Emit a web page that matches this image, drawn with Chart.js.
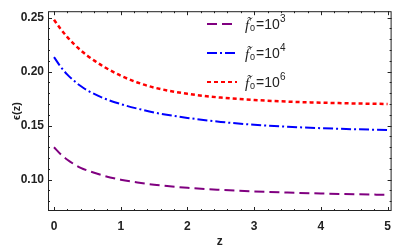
<!DOCTYPE html>
<html>
<head>
<meta charset="utf-8">
<script src="https://cdn.jsdelivr.net/npm/chart.js@4.4.0/dist/chart.umd.min.js"></script>
<style>
  html, body { margin: 0; padding: 0; background: #fff; }
  #wrap { width: 399px; height: 249px; }
</style>
</head>
<body>
<div id="wrap"><canvas id="grafik"></canvas></div>
<script>
// ====== DATA ======
const zValues = [0, 0.1, 0.2, 0.3, 0.4, 0.5, 0.75, 1, 1.25, 1.5, 2, 2.5, 3, 3.5, 4, 4.5, 5];
const eps1e3 = [0.130, 0.1235, 0.1185, 0.1144, 0.1110, 0.1085, 0.1036, 0.1000, 0.0974, 0.0954, 0.0925, 0.0906, 0.0891, 0.0881, 0.0872, 0.0865, 0.0860];
const eps1e4 = [0.2135, 0.2045, 0.1973, 0.1915, 0.1867, 0.1827, 0.1753, 0.1700, 0.1658, 0.1622, 0.1572, 0.1535, 0.1508, 0.1490, 0.1477, 0.1467, 0.1460];
const eps1e6 = [0.2480, 0.2395, 0.2320, 0.2255, 0.2198, 0.2148, 0.2045, 0.1963, 0.1900, 0.1853, 0.1795, 0.1760, 0.1738, 0.1723, 0.1713, 0.1706, 0.1701];
const legendExp = ["3", "4", "6"];
const xTicks = [0, 1, 2, 3, 4, 5];
const yTicks = [0.10, 0.15, 0.20, 0.25];

const warna = ["#800080", "#0000ff", "#ff0000"];
const garis = [[10, 5], [10, 3, 2, 3], [4, 3]];

function toPoints(arr) {
  return arr.map((v, i) => ({ x: zValues[i], y: v }));
}

// frame + ticks di dalam (gaya Mathematica)
const framePlugin = {
  id: "frame",
  afterDatasetsDraw(chart) {
    const { ctx, chartArea: a, scales } = chart;
    ctx.save();
    ctx.strokeStyle = "#222";
    ctx.lineWidth = 1;
    ctx.strokeRect(a.left + 0.5, a.top + 0.5, a.right - a.left - 1, a.bottom - a.top - 1);

    ctx.beginPath();
    // ticks x
    for (let i = 0; i <= 25; i++) {
      const v = i * 0.2;
      const px = Math.round(scales.x.getPixelForValue(v)) + 0.5;
      const len = i % 5 === 0 ? 4 : 2;
      ctx.moveTo(px, a.bottom); ctx.lineTo(px, a.bottom - len);
      ctx.moveTo(px, a.top); ctx.lineTo(px, a.top + len);
    }
    // ticks y
    for (let i = 8; i <= 25; i++) {
      const v = i * 0.01;
      const py = Math.round(scales.y.getPixelForValue(v)) + 0.5;
      const len = i % 5 === 0 ? 4 : 2;
      ctx.moveTo(a.left, py); ctx.lineTo(a.left + len, py);
      ctx.moveTo(a.right, py); ctx.lineTo(a.right - len, py);
    }
    ctx.stroke();
    ctx.restore();
  },
};

// legenda di dalam area grafik
const legendPlugin = {
  id: "legendaDalam",
  afterDraw(chart) {
    const { ctx } = chart;
    const rows = [24, 53, 82];
    ctx.save();
    rows.forEach((y, i) => {
      ctx.strokeStyle = warna[i];
      ctx.lineWidth = 2;
      ctx.setLineDash(garis[i]);
      ctx.beginPath();
      ctx.moveTo(207, y); ctx.lineTo(237, y);
      ctx.stroke();
      ctx.setLineDash([]);

      ctx.fillStyle = "#222";
      ctx.textBaseline = "alphabetic";
      ctx.textAlign = "left";
      ctx.font = "italic 15px 'Liberation Serif', serif";
      ctx.fillText("f\u0303", 245, y + 6);
      ctx.font = "9px 'Liberation Sans', Arial, sans-serif";
      ctx.fillText("0", 250, y + 7);
      ctx.font = "14px 'Liberation Sans', Arial, sans-serif";
      ctx.fillText("=10", 256, y + 5);
      ctx.font = "10px 'Liberation Sans', Arial, sans-serif";
      ctx.fillText(legendExp[i], 280, y - 2);
    });
    ctx.restore();
  },
};

const ctx = document.getElementById("grafik").getContext("2d");
new Chart(ctx, {
  type: "line",
  data: {
    datasets: [eps1e3, eps1e4, eps1e6].map((d, i) => ({
      data: toPoints(d),
      borderColor: warna[i],
      borderDash: garis[i],
      borderWidth: i === 2 ? 2.5 : 2,
      pointRadius: 0,
      fill: false,
      cubicInterpolationMode: "monotone",
    })),
  },
  options: {
    responsive: true,
    maintainAspectRatio: false,
    animation: false,
    layout: { padding: { left: 0, right: 5, top: 2, bottom: 0 } },
    plugins: { legend: { display: false }, tooltip: { enabled: false } },
    scales: {
      x: {
        type: "linear",
        min: -0.09,
        max: 5.06,
        afterBuildTicks: (s) => { s.ticks = xTicks.map((v) => ({ value: v })); },
        afterFit: (s) => { s.height = 38; },
        grid: { display: false, drawTicks: false },
        border: { display: false },
        ticks: {
          padding: 8,
          color: "#222",
          font: { family: "'Liberation Sans', Arial, sans-serif", size: 12, weight: "bold" },
          callback: (v) => String(v),
        },
        title: {
          display: true,
          text: "z",
          color: "#222",
          padding: { top: 0, bottom: 0 },
          font: { family: "'Liberation Sans', Arial, sans-serif", size: 12, weight: "bold" },
        },
      },
      y: {
        min: 0.071,
        max: 0.256,
        afterBuildTicks: (s) => { s.ticks = yTicks.map((v) => ({ value: v })); },
        afterFit: (s) => { s.width = 48; },
        grid: { display: false, drawTicks: false },
        border: { display: false },
        ticks: {
          padding: 4,
          color: "#222",
          font: { family: "'Liberation Sans', Arial, sans-serif", size: 12, weight: "bold" },
          callback: (v) => Number(v).toFixed(2),
        },
        title: {
          display: true,
          text: "\u03f5(z)",
          color: "#222",
          padding: { top: 10, bottom: 0 },
          font: { family: "'Liberation Sans', Arial, sans-serif", size: 11, weight: "bold" },
        },
      },
    },
  },
  plugins: [framePlugin, legendPlugin],
});
</script>
</body>
</html>
